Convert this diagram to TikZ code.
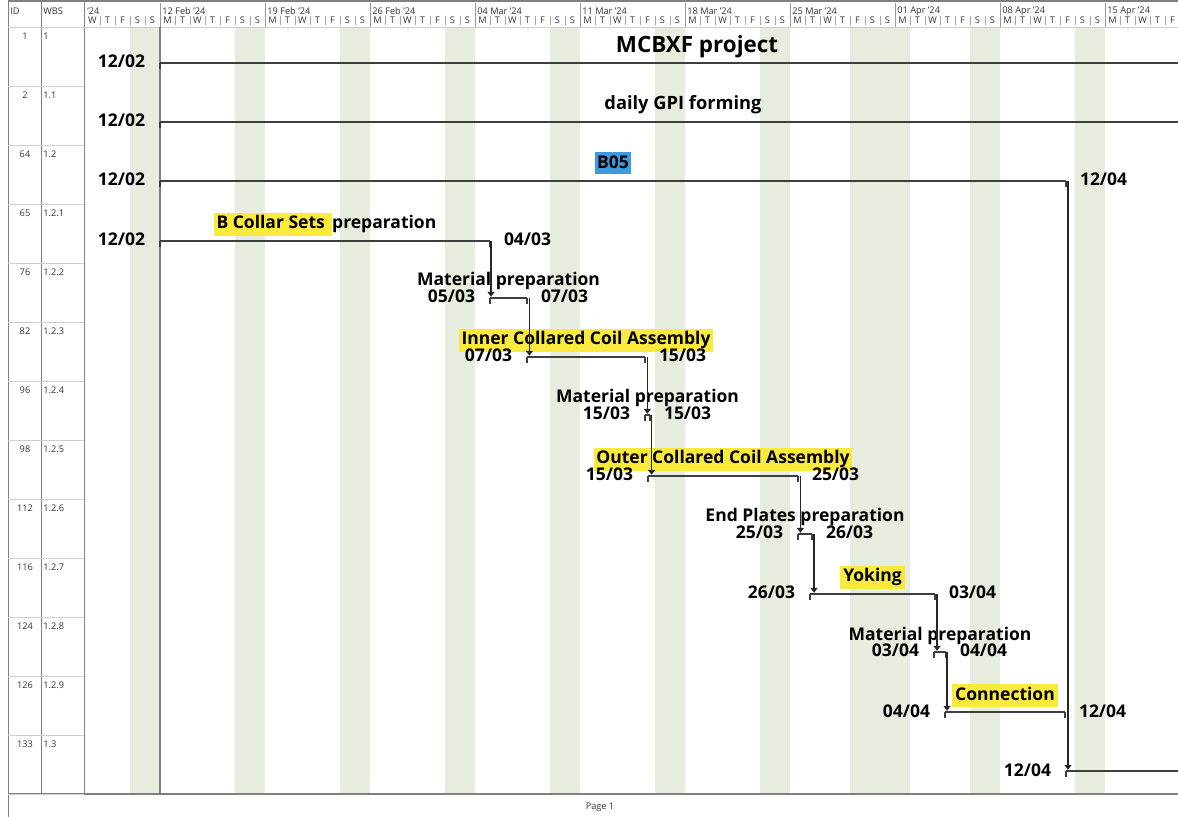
\documentclass[tikz,border=0pt]{standalone}
\usepackage{fontspec}
\setmainfont{Open Sans}
\usetikzlibrary{arrows.meta,positioning}
\definecolor{offday}{RGB}{230,237,223}
\definecolor{hl}{RGB}{250,234,62}
\definecolor{blu}{RGB}{62,154,222}
\definecolor{barc}{RGB}{62,62,62}
\definecolor{gridc}{RGB}{128,128,128}
\definecolor{lightgrid}{RGB}{208,208,208}
\newcommand\marktext[1]{{\setlength{\fboxsep}{1.4pt}\colorbox{hl}{\vphantom{Ag}#1}}}
\tikzset{
  taskbar/.style={barc, line width=1pt},
  tickmark/.style={barc, line width=1.3pt},
  deplink/.style={black!85, line width=0.55pt, shorten >=0.6pt, -{Triangle[width=3.4pt,length=2.4pt]}},
  lbl/.style={font=\fontsize{8.75}{10}\selectfont\bfseries, text=black, anchor=base, inner sep=0pt, yshift=6pt},
  ldate/.style={font=\fontsize{8.75}{10}\selectfont\bfseries, text=black, anchor=base east, inner sep=0pt, xshift=-7pt, yshift=-2.5pt},
  rdate/.style={font=\fontsize{8.75}{10}\selectfont\bfseries, text=black, anchor=base west, inner sep=0pt, xshift=6.5pt, yshift=-2.5pt},
  small/.style={font=\fontsize{4.6}{5}\selectfont, inner sep=0pt, text=black!80},
  weekl/.style={small, anchor=west},
  dayl/.style={small}
}
\begin{document}
\begin{tikzpicture}[x=0.5pt,y=-0.5pt]
\useasboundingbox (0,0) rectangle (1178,817);
\foreach \a/\b in {130/160,235/265,340/370,445/475,550/580,655/685,760/790,850/910,970/1000,1075/1105}
  \fill[offday] (\a,27) rectangle (\b,794);
\draw[gridc, line width=0.8pt] (8,1) -- (1178,1);
\draw[gridc] (8,0) -- (8,817);
\draw[gridc] (41,0) -- (41,794);
\draw[gridc] (84,0) -- (84,794);
\draw[lightgrid] (8,27) -- (1178,27);
\draw[gridc, line width=0.7pt] (8,794) -- (1178,794);
\draw[gridc, line width=0.7pt] (160,27) -- (160,794);
\node[small, anchor=west] (hid) at (10,11.5) {ID};
\node[small, anchor=west] (hwbs) at (43,11.5) {WBS};
\node[weekl] (wk) at (87,11.5) {'24};
\foreach \t [count=\w from 0] in {12 Feb,19 Feb,26 Feb,04 Mar,11 Mar,18 Mar,25 Mar,01 Apr,08 Apr,15 Apr} {
  \draw[gridc!80] (160+105*\w,3) -- (160+105*\w,27);
  \node[weekl] (wk\w) at (162+105*\w,11.5) {\t\ '24};
  \foreach \k in {1,...,6}
    \draw[gridc!70] (160+105*\w+15*\k,16) -- (160+105*\w+15*\k,25);
}
\foreach \x in {100,115,130,145}
  \draw[gridc!70] (\x,16) -- (\x,25);
\foreach \l [count=\k from 2] in {W,T,F,S,S}
  \node[dayl] (dp\k) at (55+15*\k+7.5,20.5) {\l};
\foreach \w in {0,...,8}
  \foreach \l [count=\k from 0] in {M,T,W,T,F,S,S}
    \node[dayl] (d\w\k) at (160+105*\w+15*\k+7.5,20.5) {\l};
\foreach \l [count=\k from 0] in {M,T,W,T,F}
  \node[dayl] (dl\k) at (1105+15*\k+7.5,20.5) {\l};
\foreach \id/\wbs [count=\r from 0] in {1/1,2/1.1,64/1.2,65/1.2.1,76/1.2.2,82/1.2.3,96/1.2.4,98/1.2.5,112/1.2.6,116/1.2.7,124/1.2.8,126/1.2.9,133/1.3} {
  \node[small] (id\r) at (25,36+59*\r) {\id};
  \node[small, anchor=west] (wbs\r) at (43,36+59*\r) {\wbs};
  \draw[lightgrid] (8,86+59*\r) -- (84,86+59*\r);
}
\coordinate (s0) at (160,63);
\coordinate (e0) at (1178,63);
\coordinate (s1) at (160,122);
\coordinate (e1) at (1178,122);
\coordinate (s64) at (160,181);
\coordinate (e64) at (1066,181);
\coordinate (s65) at (160,241);
\coordinate (e65) at (490,241);
\coordinate (s76) at (490,298);
\coordinate (e76) at (527,298);
\coordinate (s82) at (527,357);
\coordinate (e82) at (645,357);
\coordinate (s96) at (645,415);
\coordinate (e96) at (650,415);
\coordinate (s98) at (648,476);
\coordinate (e98) at (798,476);
\coordinate (s112) at (798,534);
\coordinate (e112) at (812,534);
\coordinate (s116) at (810,594);
\coordinate (e116) at (935,594);
\coordinate (s124) at (934,652);
\coordinate (e124) at (946,652);
\coordinate (s126) at (945,712);
\coordinate (e126) at (1065,712);
\coordinate (s133) at (1066,771);
\coordinate (e133) at (1178,771);
\node[lbl, yshift=-0.8pt, font=\fontsize{11.2}{13}\selectfont\bfseries] (t0) at (697,63) {MCBXF project};
\node[lbl, font=\fontsize{9.15}{11}\selectfont\bfseries] (t1) at (683,122) {daily GPI forming};
\path (s64) -- (e64) node[midway, lbl, fill=blu, inner xsep=1pt, inner ysep=2pt, text height=6.4pt, text depth=0.6pt] (t64) {B05};
\path (s65) -- (e65) node[midway, lbl] (t65) {\marktext{B Collar Sets }preparation};
\path (s76) -- (e76) node[midway, lbl] (t76) {Material preparation};
\path (s82) -- (e82) node[midway, lbl] (t82) {\marktext{Inner Collared Coil Assembly}};
\path (s96) -- (e96) node[midway, lbl] (t96) {Material preparation};
\path (s98) -- (e98) node[midway, lbl] (t98) {\marktext{Outer Collared Coil Assembly}};
\path (s112) -- (e112) node[midway, lbl] (t112) {End Plates preparation};
\path (s116) -- (e116) node[midway, lbl] (t116) {\marktext{Yoking}};
\path (s124) -- (e124) node[midway, lbl] (t124) {Material preparation};
\path (s126) -- (e126) node[midway, lbl] (t126) {\marktext{Connection}};
\draw[taskbar] (s0) node[ldate] {12/02} -- (e0);
\draw[taskbar] (s1) node[ldate] {12/02} -- (e1);
\draw[taskbar] (s64) node[ldate] {12/02} -- (e64) node[rdate] {12/04};
\draw[taskbar] (s65) node[ldate] {12/02} -- (e65) node[rdate] {04/03};
\draw[taskbar] (s76) node[ldate] {05/03} -- (e76) node[rdate] {07/03};
\draw[taskbar] (s82) node[ldate] {07/03} -- (e82) node[rdate] {15/03};
\draw[taskbar] (s96) node[ldate] {15/03} -- (e96) node[rdate] {15/03};
\draw[taskbar] (s98) node[ldate] {15/03} -- (e98) node[rdate] {25/03};
\draw[taskbar] (s112) node[ldate] {25/03} -- (e112) node[rdate] {26/03};
\draw[taskbar] (s116) node[ldate] {26/03} -- (e116) node[rdate] {03/04};
\draw[taskbar] (s124) node[ldate] {03/04} -- (e124) node[rdate] {04/04};
\draw[taskbar] (s126) node[ldate] {04/04} -- (e126) node[rdate] {12/04};
\draw[taskbar] (s133) node[ldate] {12/04} -- (e133);
\foreach \c in {s0,s1,s64,e64,s65,e65,s76,e76,s82,e82,s96,e96,s98,e98,s112,e112,s116,e116,s124,e124,s126,e126,s133}
  \draw[tickmark] (\c) -- ++(0,6);
\draw[deplink] ([xshift=1pt]e64) -- ([xshift=1pt]e64 |- s133);
\draw[deplink] ([xshift=0.5pt]e65) -- ([xshift=0.5pt]e65 |- s76);
\draw[deplink] ([xshift=1.2pt]e76) -- ([xshift=1.2pt]e76 |- s82);
\draw[deplink] ([xshift=1.2pt]e82) -- ([xshift=1.2pt]e82 |- s96);
\draw[deplink] ([xshift=0.8pt]e96) -- ([xshift=0.8pt]e96 |- s98);
\draw[deplink] ([xshift=1.2pt]e98) -- ([xshift=1.2pt]e98 |- s112);
\draw[deplink] ([xshift=1pt]e112) -- ([xshift=1pt]e112 |- s116);
\draw[deplink] ([xshift=1pt]e116) -- ([xshift=1pt]e116 |- s124);
\draw[deplink] ([xshift=0.5pt]e124) -- ([xshift=0.5pt]e124 |- s126);
\node[small] (pg) at (600,807) {Page 1};
\end{tikzpicture}
\end{document}
